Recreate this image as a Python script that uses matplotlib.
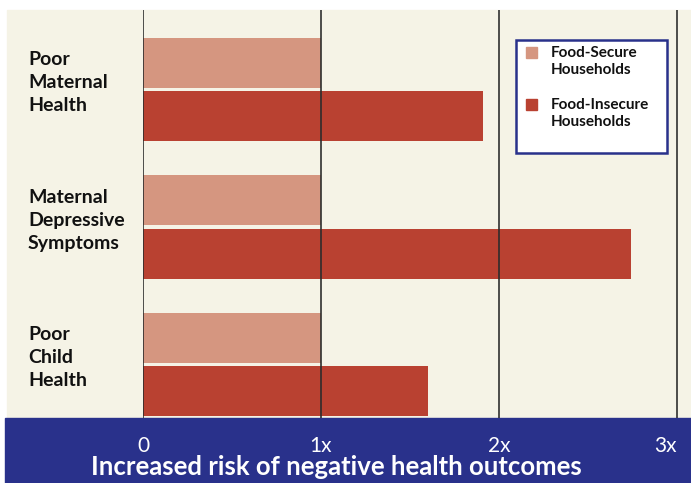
import numpy as np
import matplotlib.pyplot as plt
from matplotlib.patches import Rectangle
from matplotlib.transforms import blended_transform_factory

groups = ["Poor\nMaternal\nHealth", "Maternal\nDepressive\nSymptoms", "Poor\nChild\nHealth"]
secure = [1.0, 1.0, 1.0]
insecure = [1.91, 2.74, 1.60]
tick_vals = [0, 1, 2, 3]
tick_labels = ["0", "1x", "2x", "3x"]
series_names = ["Food-Secure\nHouseholds", "Food-Insecure\nHouseholds"]

CREAM = "#f5f3e6"
LIGHT = "#d59680"
DARK = "#b94131"
NAVY = "#29318b"
W, H = 691, 483

plt.rcParams['font.family'] = ['Lato', 'DejaVu Sans']

fig = plt.figure(figsize=(W / 100, H / 100), dpi=100)
fig.patch.set_facecolor("white")

def fx(px):
    return px / W

def fy(py):
    return 1 - py / H

# background panels
fig.patches.append(Rectangle((fx(7), fy(418)), 1 - fx(7), fy(10) - fy(418),
                             transform=fig.transFigure, color=CREAM, zorder=0))
fig.patches.append(Rectangle((fx(5), 0), 1 - fx(5), fy(418),
                             transform=fig.transFigure, color=NAVY, zorder=0))

ax = fig.add_axes([fx(143), fy(418), 1 - fx(143), fy(10) - fy(418)])
ax.set_facecolor("none")
ax.set_zorder(1)

y = np.arange(len(groups))
h = 0.364
off = 0.193
ax.barh(y - off, secure, height=h, color=LIGHT, zorder=2)
ax.barh(y + off, insecure, height=h, color=DARK, zorder=2)

for v in tick_vals:
    ax.axvline(v, color="#2b2b2b", lw=1.3, zorder=3, alpha=0.9)

ax.set_xlim(0, (691 - 143) / 178)
ax.set_ylim(2 + 53.5 / 137.5, -79.5 / 137.5)
for s in ax.spines.values():
    s.set_visible(False)
ax.set_yticks([])
ax.set_xticks(tick_vals)
ax.set_xticklabels(tick_labels, color="white", fontsize=15)
ax.tick_params(axis="x", length=0, pad=13)
ax.get_xticklabels()[-1].set_horizontalalignment("right")

tr = blended_transform_factory(fig.transFigure, ax.transData)
for i, g in enumerate(groups):
    ax.text(fx(28), i - 0.05, g, transform=tr, ha="left", va="center",
            fontsize=14, fontweight="bold", color="#111111", linespacing=1.42)

fig.text(fx(336), fy(467), "Increased risk of negative health outcomes",
         ha="center", va="center", color="white", fontsize=18.5, fontweight="bold")

# legend box
fig.patches.append(Rectangle((fx(516), fy(153)), fx(667) - fx(516), fy(40) - fy(153),
                             transform=fig.transFigure, facecolor="white",
                             edgecolor=NAVY, lw=1.8, zorder=4))
for name, col, top in zip(series_names, [LIGHT, DARK], [47, 99]):
    fig.patches.append(Rectangle((fx(526), fy(top + 11)), fx(11), fy(top) - fy(top + 11),
                                 transform=fig.transFigure, color=col, zorder=5))
    fig.text(fx(551), fy(top - 1), name, ha="left", va="top", fontsize=11,
             fontweight="bold", color="#111111", linespacing=1.3, zorder=5)

fig.savefig("out.png", dpi=100, facecolor=fig.get_facecolor())
